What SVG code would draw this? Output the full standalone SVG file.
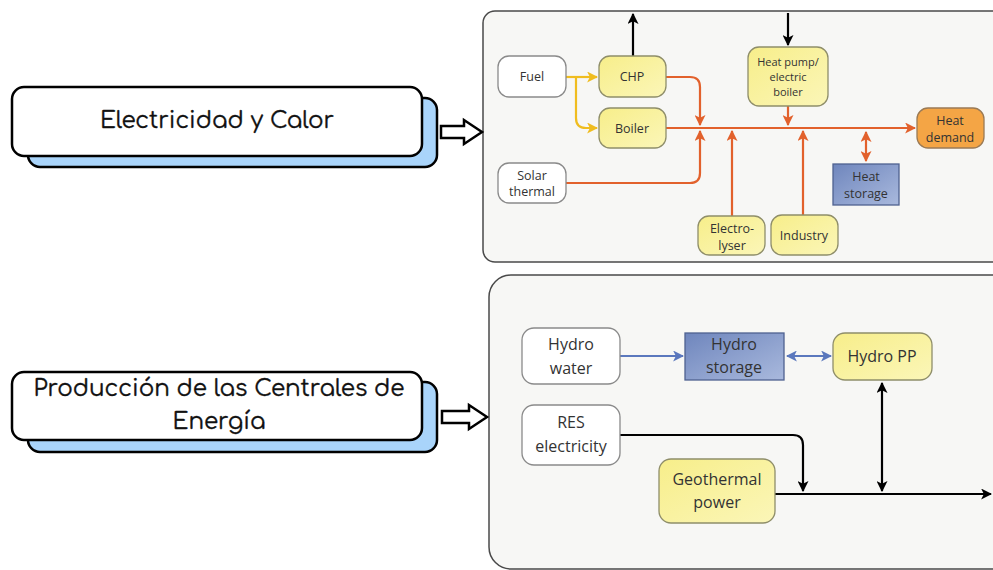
<svg xmlns="http://www.w3.org/2000/svg" width="993" height="570" viewBox="0 0 993 570">
<defs>
<style>
.t{font-family:"Open Sans","Noto Sans",sans-serif;fill:#333;text-anchor:middle;dominant-baseline:central}
.s{font-size:12.5px}
.xs{font-size:11px}
.b{font-size:16px}
.big{font-family:"Comfortaa","Lato","Noto Sans",sans-serif;font-size:23px;fill:#111;text-anchor:middle;dominant-baseline:central;stroke:#111;stroke-width:0.35}
.white{fill:#fff;stroke:#8a8a8a;stroke-width:1.3}
.yel{fill:url(#gy);stroke:#8f8e6a;stroke-width:1.3}
.blue{fill:url(#gb);stroke:#4f6290;stroke-width:1.3}
.org{fill:#f4a545;stroke:#9a7a55;stroke-width:1.3}
.front{fill:#fff;stroke:#000;stroke-width:2.5}
.shadow{fill:#a9d4fa;stroke:#000;stroke-width:2.5}
.panel{fill:#f7f7f5;stroke:#4a4a4a;stroke-width:1.5}
.ol{fill:none;stroke:#e2612c;stroke-width:2.2}
.yl{fill:none;stroke:#f0bd1f;stroke-width:2.2}
.kl{fill:none;stroke:#000;stroke-width:2.2}
.bl{fill:none;stroke:#5b78bd;stroke-width:2.2}
.blk{fill:#fff;stroke:#000;stroke-width:2.5;stroke-linejoin:miter}
</style>
<linearGradient id="gy" x1="0" y1="0" x2="1" y2="1"><stop offset="0" stop-color="#f7ee8a"/><stop offset="1" stop-color="#fbf6b8"/></linearGradient>
<linearGradient id="gb" x1="0" y1="0" x2="1" y2="1"><stop offset="0" stop-color="#6f86bd"/><stop offset="1" stop-color="#a9b9dd"/></linearGradient>
<marker id="ao" viewBox="0 0 10 10" refX="9" refY="5" markerWidth="5" markerHeight="5" orient="auto-start-reverse" markerUnits="strokeWidth"><path d="M0,0 L10,5 L0,10 L2.5,5 z" fill="#e2612c"/></marker>
<marker id="ay" viewBox="0 0 10 10" refX="9" refY="5" markerWidth="5" markerHeight="5" orient="auto-start-reverse" markerUnits="strokeWidth"><path d="M0,0 L10,5 L0,10 L2.5,5 z" fill="#f0bd1f"/></marker>
<marker id="ak" viewBox="0 0 10 10" refX="9" refY="5" markerWidth="5" markerHeight="5" orient="auto-start-reverse" markerUnits="strokeWidth"><path d="M0,0 L10,5 L0,10 L2.5,5 z" fill="#000"/></marker>
<marker id="ab" viewBox="0 0 10 10" refX="9" refY="5" markerWidth="5" markerHeight="5" orient="auto-start-reverse" markerUnits="strokeWidth"><path d="M0,0 L10,5 L0,10 L2.5,5 z" fill="#5b78bd"/></marker>
</defs>
<rect width="993" height="570" fill="#fff"/>

<!-- panels -->
<rect class="panel" x="483" y="11" width="530" height="251" rx="12"/>
<rect class="panel" x="489" y="275" width="530" height="294" rx="22"/>

<!-- left title boxes -->
<g id="title1">
<rect class="shadow" x="28" y="98" width="409" height="69" rx="12"/>
<rect class="front" x="12" y="87" width="410" height="69" rx="12"/>
<text class="big" x="217" y="120">Electricidad y Calor</text>
</g>
<g id="title2">
<rect class="shadow" x="28" y="382" width="409" height="70" rx="12"/>
<rect class="front" x="12" y="372" width="410" height="68" rx="12"/>
<text class="big" x="219" y="388">Producción de las Centrales de</text>
<text class="big" x="219" y="421">Energía</text>
</g>

<g id="blockarrows">
<path class="blk" d="M441,126 H464 V120 L482,132 L464,144 V138 H441 Z"/>
<path class="blk" d="M442,411 H469 V405 L487,417 L469,429 V423 H442 Z"/>
</g>

<!-- connectors -->
<g id="connectors">
<path class="yl" d="M566,77 H597" marker-end="url(#ay)"/>
<path class="yl" d="M576,77 V118 Q576,128 586,128 H597" marker-end="url(#ay)"/>
<path class="kl" d="M633,56 V14" marker-end="url(#ak)"/>
<path class="kl" d="M788,13 V45" marker-end="url(#ak)"/>
<path class="ol" d="M666,77 H690 Q700,77 700,87 V125" marker-end="url(#ao)"/>
<path class="ol" d="M666,128 H915" marker-end="url(#ao)"/>
<path class="ol" d="M566,183 H690 Q700,183 700,173 V131" marker-end="url(#ao)"/>
<path class="ol" d="M788,106 V125" marker-end="url(#ao)"/>
<path class="ol" d="M732,216 V131" marker-end="url(#ao)"/>
<path class="ol" d="M803,215 V131" marker-end="url(#ao)"/>
<path class="ol" d="M866,132 V161" marker-start="url(#ao)" marker-end="url(#ao)"/>

<path class="bl" d="M620,356 H683" marker-end="url(#ab)"/>
<path class="bl" d="M787,356 H831" marker-start="url(#ab)" marker-end="url(#ab)"/>
<path class="kl" d="M620,435 H793 Q803,435 803,445 V491" marker-end="url(#ak)"/>
<path class="kl" d="M775,494 H991" marker-end="url(#ak)"/>
<path class="kl" d="M882,383 V491" marker-start="url(#ak)" marker-end="url(#ak)"/>
</g>

<!-- top panel nodes -->
<g id="fuel"><rect class="white" x="498" y="56" width="68" height="41" rx="11"/><text class="t s" x="532" y="76">Fuel</text></g>
<g id="chp"><rect class="yel" x="599" y="56" width="67" height="41" rx="11"/><text class="t s" x="632" y="76">CHP</text></g>
<g id="boiler"><rect class="yel" x="599" y="108" width="67" height="40" rx="11"/><text class="t s" x="632" y="128">Boiler</text></g>
<g id="solar"><rect class="white" x="498" y="163" width="68" height="40" rx="11"/><text class="t s" x="532" y="175">Solar</text><text class="t s" x="532" y="191">thermal</text></g>
<g id="heatpump"><rect class="yel" x="748" y="47" width="80" height="59" rx="11"/><text class="t xs" x="788" y="61">Heat pump/</text><text class="t xs" x="788" y="76">electric</text><text class="t xs" x="788" y="91">boiler</text></g>
<g id="heatdemand"><rect class="org" x="917" y="108" width="67" height="40" rx="11"/><text class="t s" x="950" y="120">Heat</text><text class="t s" x="950" y="137">demand</text></g>
<g id="heatstorage"><rect class="blue" x="833" y="164" width="66" height="41"/><text class="t s" x="866" y="176">Heat</text><text class="t s" x="866" y="193">storage</text></g>
<g id="electrolyser"><rect class="yel" x="698" y="216" width="67" height="39" rx="11"/><text class="t s" x="732" y="228">Electro-</text><text class="t s" x="732" y="245">lyser</text></g>
<g id="industry"><rect class="yel" x="771" y="215" width="67" height="40" rx="11"/><text class="t s" x="804" y="235">Industry</text></g>

<!-- bottom panel nodes -->
<g id="hydrowater"><rect class="white" x="522" y="328" width="98" height="56" rx="12"/><text class="t b" x="571" y="344">Hydro</text><text class="t b" x="571" y="368">water</text></g>
<g id="hydrostorage"><rect class="blue" x="685" y="333" width="99" height="47"/><text class="t b" x="734" y="344">Hydro</text><text class="t b" x="734" y="367">storage</text></g>
<g id="hydropp"><rect class="yel" x="833" y="333" width="99" height="47" rx="12"/><text class="t b" x="882" y="356">Hydro PP</text></g>
<g id="res"><rect class="white" x="522" y="405" width="98" height="60" rx="12"/><text class="t b" x="571" y="422">RES</text><text class="t b" x="571" y="446">electricity</text></g>
<g id="geothermal"><rect class="yel" x="659" y="459" width="116" height="64" rx="12"/><text class="t b" x="717" y="479">Geothermal</text><text class="t b" x="717" y="502">power</text></g>
</svg>
